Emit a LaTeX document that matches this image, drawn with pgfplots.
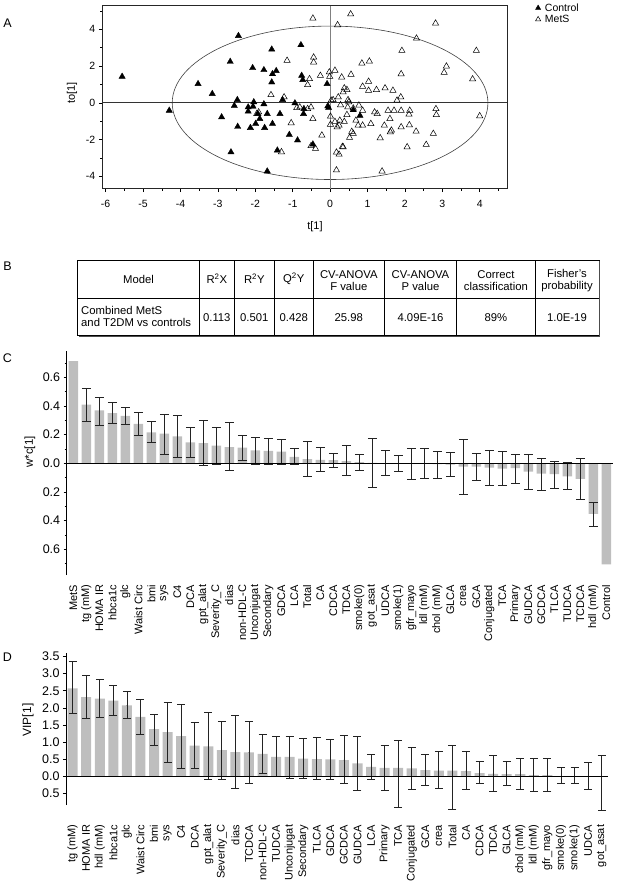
\documentclass[border=0pt]{standalone}
\usepackage{fontspec}
\setmainfont{Liberation Sans}
\usepackage{pgfplots}
\usepackage{pgfplotstable}
\pgfplotsset{compat=1.18}
\definecolor{barg}{RGB}{190,190,190}
\definecolor{errc}{RGB}{35,35,35}

\pgfplotstableread{
x y hi lo
1 0.409 0.525 0.289
2 0.368 0.462 0.264
3 0.349 0.423 0.280
4 0.331 0.386 0.268
5 0.275 0.358 0.194
6 0.215 0.289 0.146
7 0.206 0.344 0.062
8 0.187 0.333 0.042
9 0.146 0.250 0.042
10 0.141 0.298 -0.014
11 0.123 0.250 -0.007
12 0.113 0.282 -0.051
13 0.109 0.197 0.018
14 0.090 0.183 -0.009
15 0.086 0.171 -0.009
16 0.081 0.164 -0.009
17 0.044 0.102 -0.009
18 0.028 0.155 -0.095
19 0.023 0.111 -0.055
20 0.021 0.069 -0.030
21 0.014 0.123 -0.088
22 0.007 0.060 -0.049
23 0.002 0.176 -0.169
24 -0.002 0.086 -0.088
25 -0.002 0.053 -0.058
26 -0.005 0.102 -0.116
27 -0.005 0.102 -0.109
28 -0.007 0.079 -0.104
29 -0.009 0.072 -0.092
30 -0.023 0.164 -0.217
31 -0.023 0.065 -0.123
32 -0.030 0.088 -0.157
33 -0.037 0.081 -0.157
34 -0.035 0.060 -0.141
35 -0.058 0.060 -0.185
36 -0.072 0.035 -0.190
37 -0.076 0.014 -0.173
38 -0.092 0.005 -0.185
39 -0.109 0.032 -0.254
40 -0.354 -0.270 -0.444
}\errC

\pgfplotstableread{
x y hi lo
0 2.57 3.35 1.83
1 2.31 2.94 1.70
2 2.27 2.83 1.72
3 2.21 2.65 1.77
4 2.07 2.47 1.70
5 1.74 2.26 1.22
6 1.38 1.82 0.91
7 1.29 2.17 0.40
8 1.18 2.10 0.24
9 0.90 1.57 0.23
10 0.88 1.86 -0.09
11 0.77 1.60 -0.07
12 0.71 1.79 -0.34
13 0.70 1.62 -0.21
14 0.66 1.24 0.10
15 0.57 1.18 -0.01
16 0.57 1.18 -0.06
17 0.52 1.11 -0.05
18 0.51 1.14 -0.09
19 0.50 1.09 -0.09
20 0.48 1.20 -0.21
21 0.38 1.17 -0.41
22 0.28 0.64 -0.08
23 0.25 0.91 -0.39
24 0.25 1.04 -0.89
25 0.24 0.85 -0.37
26 0.19 0.64 -0.27
27 0.17 0.73 -0.36
28 0.17 0.91 -0.95
29 0.16 0.72 -0.37
30 0.10 0.44 -0.19
31 0.08 0.61 -0.44
32 0.07 0.44 -0.26
33 0.07 0.52 -0.37
34 0.04 0.52 -0.44
35 0.04 0.52 -0.44
36 0.01 0.26 -0.20
37 0.01 0.26 -0.20
38 0.01 0.40 -0.37
39 0.00 0.63 -1.00
}\dataD

\begin{document}
\begin{tikzpicture}
\useasboundingbox (0,0) rectangle (617pt,-892pt);

% ---------------- Panel labels ----------------
\node[font=\fontsize{12.5}{14}\selectfont] at (7.5pt,-22.7pt) {A};
\node[font=\fontsize{12.5}{14}\selectfont] at (7.5pt,-266pt) {B};
\node[font=\fontsize{12.5}{14}\selectfont] at (7.5pt,-358pt) {C};
\node[font=\fontsize{12.5}{14}\selectfont] at (7.5pt,-656.7pt) {D};

% ---------------- Panel A ----------------
\begin{axis}[
  at={(102.3pt,-188.5pt)}, anchor=south west,
  scale only axis, width=404.7pt, height=182.8pt,
  xmin=-6.09, xmax=4.73, ymin=-4.67, ymax=5.29,
  xtick={-6,-5,...,4}, ytick={-4,-2,0,2,4},
  minor xtick={-5.5,-4.5,...,4.5}, minor ytick={-3,-1,1,3,5},
  tick pos=left, tick align=outside,
  major tick length=3.5pt, minor tick length=2.2pt,
  tick style={black, line width=0.5pt},
  /pgf/number format/assume math mode=true,
  ticklabel style={font=\fontsize{10.5}{12}\selectfont},
  xticklabel shift=5pt,
  axis line style={line width=0.6pt, black!85},
  legend style={at={(1.07,1.02)}, anchor=north west, draw=none, fill=none,
    font=\fontsize{10.5}{12}\selectfont, row sep=0pt, inner sep=0pt,
    nodes={inner sep=1.2pt},
    /tikz/every odd column/.append style={column sep=3pt}},
  legend cell align=left,
  legend image post style={mark size=3pt},
]
\draw[black!75, line width=0.6pt] (axis cs:0,0) ellipse [x radius=4.22, y radius=4.18];
\draw[black!80, line width=0.6pt] (axis cs:-6.09,0) -- (axis cs:4.73,0);
\draw[black!50, line width=0.7pt] (axis cs:0,-4.67) -- (axis cs:0,5.29);
\addplot[only marks, mark=triangle*, mark size=3.6pt, mark options={fill=black, draw=black}] coordinates {
(-5.56,1.43) (-4.30,-0.42) (-3.53,1.03) (-3.15,0.49) (-2.90,-0.78) (-2.67,2.24)
(-2.65,-2.69) (-2.45,3.65) (-2.48,0.16) (-2.56,-0.16) (-2.47,-1.30) (-2.07,1.90)
(-2.19,-0.24) (-2.19,-0.47) (-2.13,-1.36) (-2.04,0.04) (-2.06,-0.20) (-1.99,-1.14)
(-1.93,-0.60) (-1.88,-0.87) (-1.77,-0.07) (-1.75,-1.36) (-1.68,-0.60) (-1.77,1.79)
(-1.56,2.91) (-1.54,1.57) (-1.56,1.12) (-1.54,-1.14) (-1.44,1.74) (-1.34,-0.60)
(-1.41,-2.59) (-1.68,-3.73) (-1.27,0.16) (-1.09,-1.74) (-0.94,-0.02) (-0.87,-2.04)
(-0.78,3.15) (-0.76,1.48) (-0.73,1.25) (-0.70,-0.33) (-0.71,-0.60) (-0.46,-2.26)
(-0.08,1.03) (-0.06,-0.18) (-0.04,-0.27) (0.62,-0.39) (0.80,-0.70)
};
\addlegendentry{Control}
\addplot[only marks, mark=triangle, mark size=3.6pt, mark options={draw=black, line width=0.5pt}] coordinates {
(-0.46,4.60) (0.55,4.83) (0.20,4.24) (2.82,4.33) (2.31,3.51) (1.92,2.84) (3.91,2.84)
(3.11,1.99) (3.05,1.65) (3.81,1.29) (4.00,-0.72) (2.83,-0.33) (2.84,-0.65) (2.76,-1.68)
(2.57,-2.28) (2.30,-1.56) (2.11,-0.63) (2.13,-0.42) (2.06,-2.41) (2.12,-1.21) (1.90,1.57)
(1.89,0.31) (1.90,-1.32) (1.90,-0.42) (1.79,0.13) (1.68,0.67) (1.61,-1.59) (1.64,-1.50)
(1.71,-0.42) (1.60,-0.87) (1.55,-0.42) (1.45,-1.23) (1.47,0.80) (1.34,-1.92) (1.39,-3.73)
(1.24,0.71) (1.26,-0.60) (1.19,-0.51) (1.09,-1.14) (1.05,2.26) (1.03,1.16) (1.03,0.67)
(0.85,2.15) (0.87,0.89) (0.87,-1.23) (0.77,-0.14) (0.87,-0.42) (0.75,-1.23) (0.69,-0.96)
(0.62,-1.68) (0.52,-1.90) (0.56,1.54) (0.48,0.16) (0.47,-0.24) (0.45,-0.65) (0.50,0.04)
(0.45,0.71) (0.35,0.58) (0.31,1.39) (0.22,0.31) (0.13,1.76) (0.26,-0.96) (0.24,-1.23)
(0.19,-1.32) (0.35,-2.41) (0.24,-2.81) (0.17,-2.70) (0.17,-3.67) (0.08,0.16) (0.03,0.13)
(-0.02,1.67) (-0.01,1.43) (0.01,-0.74) (0.01,-1.18) (-0.26,1.48) (-0.22,-1.77)
(-0.44,2.48) (-0.44,2.21) (-0.55,1.30) (-0.60,0.98) (-0.51,-0.24) (-0.60,-0.33)
(-0.46,-0.87) (-0.51,-2.35) (-0.39,-2.50) (-0.81,-0.24) (-0.89,-0.27) (-1.15,2.30)
(-1.23,0.31) (-1.04,-1.10) (-1.30,-2.68) (-1.58,0.43) (-1.96,-0.60) (-1.91,-0.51)
(0.13,-1.03) (0.38,-1.03) (0.58,-1.57) (0.33,-2.39) (0.28,-0.12) (0.62,-0.30) (0.38,0.80)
};
\addlegendentry{MetS}
\end{axis}
\node[font=\fontsize{11}{12}\selectfont] at (315pt,-227pt) {t[1]};
\node[rotate=90, font=\fontsize{11}{12}\selectfont] at (72pt,-93pt) {to[1]};

% ---------------- Panel B (table) ----------------
\begin{scope}[font=\fontsize{11.3}{12}\selectfont]
\draw[line width=0.6pt] (77.7pt,-298.6pt) -- (599pt,-298.6pt);
\foreach \xx in {199.3,234.3,274.3,313.3,384.3,456.7,535}
  \draw[line width=0.6pt] (\xx pt,-260pt) -- (\xx pt,-335.7pt);
\draw[line width=0.9pt] (77.7pt,-260pt) rectangle (599pt,-335.7pt);
\draw[line width=0.8pt, black!70] (599.8pt,-261pt) -- (599.8pt,-336.5pt) -- (78.5pt,-336.5pt);
\node at (138.5pt,-279pt) {Model};
\node at (216.8pt,-279pt) {R\textsuperscript{2}X};
\node at (254.3pt,-279pt) {R\textsuperscript{2}Y};
\node at (293.8pt,-279pt) {Q\textsuperscript{2}Y};
\node[align=center] at (348.8pt,-281pt) {CV-ANOVA\\F value};
\node[align=center] at (420.5pt,-281pt) {CV-ANOVA\\P value};
\node[align=center] at (495.9pt,-281pt) {Correct\\classification};
\node[align=center] at (567pt,-281pt) {Fisher’s\\probability};
\node[align=left, anchor=west, inner sep=1pt] at (80pt,-316pt) {Combined MetS\\and T2DM vs controls};
\node at (216.8pt,-318pt) {0.113};
\node at (254.3pt,-318pt) {0.501};
\node at (293.8pt,-318pt) {0.428};
\node at (348.8pt,-318pt) {25.98};
\node at (420.5pt,-318pt) {4.09E-16};
\node at (495.9pt,-318pt) {89\%};
\node at (567pt,-318pt) {1.0E-19};
\end{scope}

% ---------------- Panel C ----------------
\begin{axis}[
  at={(66.7pt,-575pt)}, anchor=south west, scale only axis,
  width=546.6pt, height=224.3pt,
  xmin=-0.51, xmax=41.54, ymin=-0.78, ymax=0.785,
  axis y line=left, axis x line=bottom,
  axis line style={-},
  x axis line style={draw=none},
  y axis line style={line width=1pt},
  xtick={0,...,41},
  xticklabels={MetS,{tg (mM)},{HOMA IR},hbca1c,glc,{Waist Circ},bmi,sys,C4,DCA,gpt\_alat,Severity\_C,dias,non-HDL-C,Unconjugat,Secondary,GDCA,LCA,Total,CA,CDCA,TDCA,smoke(0),got\_asat,UDCA,smoke(1),gfr\_mayo,{ldl (mM)},{chol (mM)},GLCA,crea,GCA,Conjugated,TCA,Primary,GUDCA,GCDCA,TLCA,TUDCA,TCDCA,{hdl (mM)},Control},
  xtick style={draw=none},
  xticklabel style={rotate=90, anchor=east, inner sep=0pt, font=\fontsize{11}{12}\selectfont},
  xticklabel shift=6.7pt,
  ytick={-0.6,-0.4,-0.2,0,0.2,0.4,0.6},
  yticklabels={0.6,0.4,0.2,0.0,0.2,0.4,0.6},
  minor ytick={-0.7,-0.5,-0.3,-0.1,0.1,0.3,0.5,0.7},
  tick align=outside, major tick length=3pt, minor tick length=2pt,
  ytick style={black, line width=0.6pt},
  yticklabel style={font=\fontsize{12.5}{14}\selectfont},
  clip=false,
]
\addplot[ybar, bar width=0.73, fill=barg, draw=none] coordinates {
(0,0.712) (1,0.409) (2,0.368) (3,0.349) (4,0.331) (5,0.275) (6,0.215) (7,0.206)
(8,0.187) (9,0.146) (10,0.141) (11,0.123) (12,0.113) (13,0.109) (14,0.090) (15,0.086)
(16,0.081) (17,0.044) (18,0.028) (19,0.023) (20,0.021) (21,0.014) (22,0.007) (23,0.002)
(24,-0.002) (25,-0.002) (26,-0.005) (27,-0.005) (28,-0.007) (29,-0.009) (30,-0.023)
(31,-0.023) (32,-0.030) (33,-0.037) (34,-0.035) (35,-0.058) (36,-0.072) (37,-0.076)
(38,-0.092) (39,-0.109) (40,-0.354) (41,-0.705)
};
\addplot[errc, only marks, mark=*, mark size=0.01pt, mark options={draw=none, fill=none},
  error bars/.cd, y dir=both, y explicit, error mark=-,
  error bar style={draw=errc, line width=0.8pt},
  error mark options={rotate=90, draw=errc, fill=none, line width=0.8pt, mark size=4.5pt}]
  table[x=x, y=y, y error plus expr=\thisrow{hi}-\thisrow{y}, y error minus expr=\thisrow{y}-\thisrow{lo}] {\errC};
\draw[black, line width=1.2pt] (axis cs:-0.51,0) -- (axis cs:41.54,0);
\end{axis}
\node[rotate=90, font=\fontsize{11.5}{12}\selectfont] at (30pt,-452pt) {w*c[1]};

% ---------------- Panel D ----------------
\begin{axis}[
  at={(66pt,-805pt)}, anchor=south west, scale only axis,
  width=542pt, height=151.7pt,
  xmin=-0.49, xmax=39.47, ymin=-0.83, ymax=3.59,
  axis y line=left, axis x line=bottom,
  axis line style={-},
  x axis line style={draw=none},
  y axis line style={line width=1pt},
  xtick={0,...,39},
  xticklabels={{tg (mM)},{HOMA IR},{hdl (mM)},hbca1c,glc,{Waist Circ},bmi,sys,C4,DCA,gpt\_alat,Severity\_C,dias,TCDCA,non-HDL-C,TUDCA,Unconjugat,Secondary,TLCA,GDCA,GCDCA,GUDCA,LCA,Primary,TCA,Conjugated,GCA,crea,Total,CA,CDCA,TDCA,GLCA,{chol (mM)},{ldl (mM)},gfr\_mayo,smoke(0),smoke(1),UDCA,got\_asat},
  xtick style={draw=none},
  xticklabel style={rotate=90, anchor=east, inner sep=0pt, font=\fontsize{11}{12}\selectfont},
  xticklabel shift=16.7pt,
  ytick={-0.5,0,0.5,1,1.5,2,2.5,3,3.5},
  yticklabels={0.5,0.0,0.5,1.0,1.5,2.0,2.5,3.0,3.5},
  tick align=outside, major tick length=3pt,
  ytick style={black, line width=0.6pt},
  yticklabel style={font=\fontsize{12.5}{14}\selectfont},
  clip=false,
]
\addplot[ybar, bar width=0.74, fill=barg, draw=none] table[x=x, y=y] {\dataD};
\addplot[errc, only marks, mark=*, mark size=0.01pt, mark options={draw=none, fill=none},
  error bars/.cd, y dir=both, y explicit, error mark=-,
  error bar style={draw=errc, line width=0.8pt},
  error mark options={rotate=90, draw=errc, fill=none, line width=0.8pt, mark size=4pt}]
  table[x=x, y=y, y error plus expr=\thisrow{hi}-\thisrow{y}, y error minus expr=\thisrow{y}-\thisrow{lo}] {\dataD};
\draw[black, line width=1.2pt] (axis cs:-0.49,0) -- (axis cs:39.47,0);
\end{axis}
\node[rotate=90, font=\fontsize{12}{13}\selectfont] at (28pt,-720pt) {VIP[1]};

\end{tikzpicture}
\end{document}
